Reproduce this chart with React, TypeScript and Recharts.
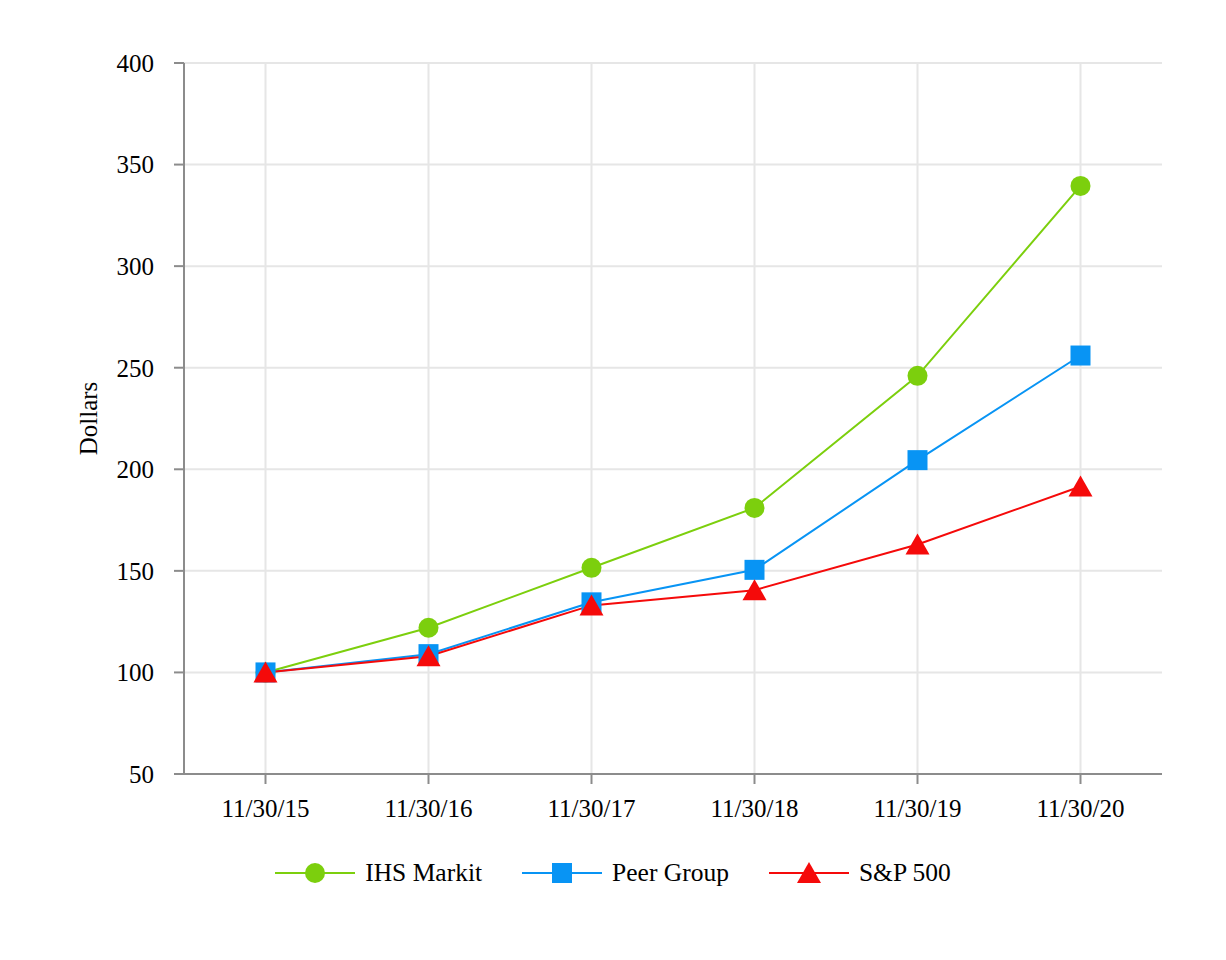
import { LineChart, CartesianGrid, XAxis, YAxis, Legend, Line } from "recharts";

const dates = ["11/30/15", "11/30/16", "11/30/17", "11/30/18", "11/30/19", "11/30/20"];
const ihsMarkit = [100, 122, 151.5, 181, 246, 339.5];
const peerGroup = [100, 109, 134.5, 150.5, 204.5, 256];
const sp500 = [100, 108, 133, 140.5, 163, 191.5];
const yTicks = [50, 100, 150, 200, 250, 300, 350, 400];

const GREEN = "#7ccf0d";
const BLUE = "#0894f4";
const RED = "#f50a0a";
const FONT = "'Liberation Serif', 'Times New Roman', serif";

const data = dates.map((date, i) => ({
  date,
  ihs: ihsMarkit[i],
  peer: peerGroup[i],
  sp: sp500[i],
}));

const CircleDot = (props: any) => (
  <circle key={`c-${props.index}`} cx={props.cx} cy={props.cy} r={10} fill={GREEN} />
);

const SquareDot = (props: any) => (
  <rect key={`s-${props.index}`} x={props.cx - 10} y={props.cy - 10} width={20} height={20} fill={BLUE} />
);

const TriangleDot = (props: any) => {
  const { cx, cy } = props;
  return (
    <polygon
      key={`t-${props.index}`}
      points={`${cx},${cy - 11} ${cx + 12},${cy + 10} ${cx - 12},${cy + 10}`}
      fill={RED}
    />
  );
};

function LegendIcon({ color, shape }: { color: string; shape: string }) {
  return (
    <svg width={80} height={26} style={{ display: "block" }}>
      <line x1={0} y1={13} x2={80} y2={13} stroke={color} strokeWidth={2} />
      {shape === "circle" && <circle cx={40} cy={13} r={10} fill={color} />}
      {shape === "square" && <rect x={30} y={3} width={20} height={20} fill={color} />}
      {shape === "triangle" && <polygon points="40,2 52,23 28,23" fill={color} />}
    </svg>
  );
}

const legendItems = [
  { label: "IHS Markit", color: GREEN, shape: "circle" },
  { label: "Peer Group", color: BLUE, shape: "square" },
  { label: "S&P 500", color: RED, shape: "triangle" },
];

function CustomLegend() {
  return (
    <div
      style={{
        height: 40,
        display: "flex",
        justifyContent: "center",
        alignItems: "center",
        gap: 40,
        fontFamily: FONT,
        fontSize: 25.5,
        color: "#000",
      }}
    >
      {legendItems.map((it) => (
        <div key={it.label} style={{ display: "flex", alignItems: "center", gap: 10 }}>
          <LegendIcon color={it.color} shape={it.shape} />
          <span>{it.label}</span>
        </div>
      ))}
    </div>
  );
}

export default function App() {
  const tickStyle = { fill: "#000", fontSize: 25, fontFamily: FONT };
  return (
    <LineChart
      width={1210}
      height={900}
      data={data}
      margin={{ top: 55, right: 56, left: 0, bottom: 15 }}
    >
      <CartesianGrid stroke="#e6e6e6" strokeWidth={2} syncWithTicks />
      <XAxis
        dataKey="date"
        padding={{ left: 81.5, right: 81.5 }}
        height={79}
        tickSize={10}
        tickMargin={15}
        tick={tickStyle}
        stroke="#8c8c8c"
        strokeWidth={2}
      />
      <YAxis
        domain={[50, 400]}
        ticks={yTicks}
        width={176}
        tickSize={10}
        tickMargin={20}
        tick={tickStyle}
        stroke="#8c8c8c"
        strokeWidth={2}
        label={{
          content: (p: any) => {
            const vb = p.viewBox || { y: 55, height: 711 };
            const cy = vb.y + vb.height / 2;
            return (
              <text
                x={80}
                y={cy}
                transform={`rotate(-90, 80, ${cy})`}
                textAnchor="middle"
                dominantBaseline="central"
                fontFamily={FONT}
                fontSize={25}
                fill="#000"
              >
                Dollars
              </text>
            );
          },
        }}
      />
      <Legend
        verticalAlign="bottom"
        content={() => <CustomLegend />}
        wrapperStyle={{ left: 0, width: 1210 }}
      />
      <Line
        dataKey="ihs"
        name="IHS Markit"
        stroke={GREEN}
        strokeWidth={2}
        dot={CircleDot}
        activeDot={false}
        isAnimationActive={false}
      />
      <Line
        dataKey="peer"
        name="Peer Group"
        stroke={BLUE}
        strokeWidth={2}
        dot={SquareDot}
        activeDot={false}
        isAnimationActive={false}
      />
      <Line
        dataKey="sp"
        name="S&P 500"
        stroke={RED}
        strokeWidth={2}
        dot={TriangleDot}
        activeDot={false}
        isAnimationActive={false}
      />
    </LineChart>
  );
}
